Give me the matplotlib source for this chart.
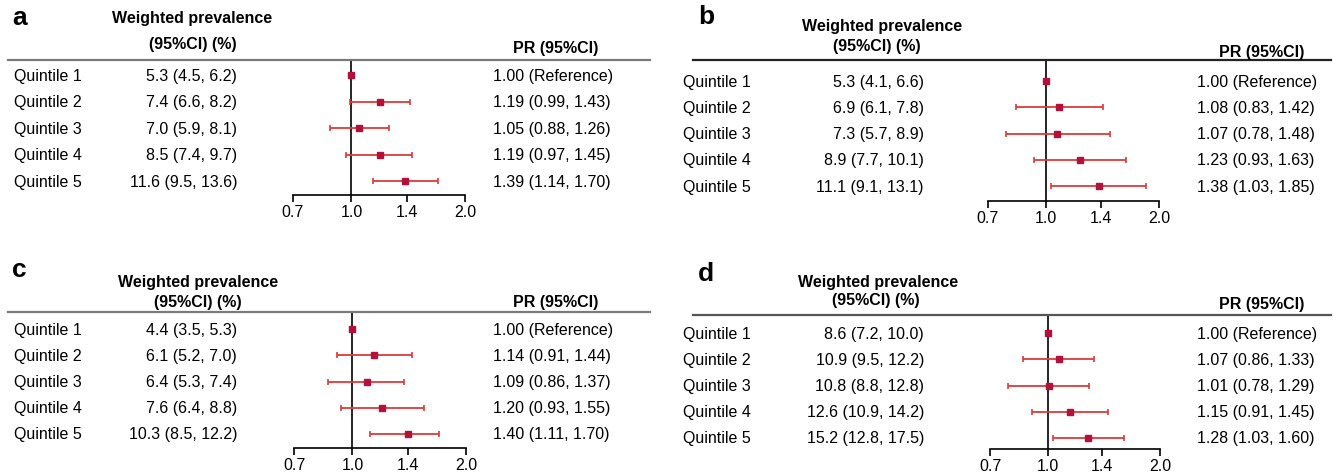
import numpy as np
import matplotlib
matplotlib.use('Agg')
import matplotlib.pyplot as plt
import matplotlib.transforms as mtransforms
from matplotlib.lines import Line2D
from matplotlib.ticker import FixedLocator, NullLocator

plt.rcParams['font.family'] = ['Liberation Sans', 'DejaVu Sans']

W, H = 1338, 477

row_labels = ['Quintile 1', 'Quintile 2', 'Quintile 3', 'Quintile 4', 'Quintile 5']
ticks      = [0.7, 1.0, 1.4, 2.0]

# weighted prevalence (%) and 95% CI
prev_a    = [5.3, 7.4, 7.0, 8.5, 11.6]
prev_lo_a = [4.5, 6.6, 5.9, 7.4, 9.5]
prev_hi_a = [6.2, 8.2, 8.1, 9.7, 13.6]
prev_b    = [5.3, 6.9, 7.3, 8.9, 11.1]
prev_lo_b = [4.1, 6.1, 5.7, 7.7, 9.1]
prev_hi_b = [6.6, 7.8, 8.9, 10.1, 13.1]
prev_c    = [4.4, 6.1, 6.4, 7.6, 10.3]
prev_lo_c = [3.5, 5.2, 5.3, 6.4, 8.5]
prev_hi_c = [5.3, 7.0, 7.4, 8.8, 12.2]
prev_d    = [8.6, 10.9, 10.8, 12.6, 15.2]
prev_lo_d = [7.2, 9.5, 8.8, 10.9, 12.8]
prev_hi_d = [10.0, 12.2, 12.8, 14.2, 17.5]

# prevalence ratio and 95% CI (quintile 1 = reference)
pr_a    = [1.00, 1.19, 1.05, 1.19, 1.39]
pr_lo_a = [1.00, 0.99, 0.88, 0.97, 1.14]
pr_hi_a = [1.00, 1.43, 1.26, 1.45, 1.70]
pr_b    = [1.00, 1.08, 1.07, 1.23, 1.38]
pr_lo_b = [1.00, 0.83, 0.78, 0.93, 1.03]
pr_hi_b = [1.00, 1.42, 1.48, 1.63, 1.85]
pr_c    = [1.00, 1.14, 1.09, 1.20, 1.40]
pr_lo_c = [1.00, 0.91, 0.86, 0.93, 1.11]
pr_hi_c = [1.00, 1.44, 1.37, 1.55, 1.70]
pr_d    = [1.00, 1.07, 1.01, 1.15, 1.28]
pr_lo_d = [1.00, 0.86, 0.78, 0.91, 1.03]
pr_hi_d = [1.00, 1.33, 1.29, 1.45, 1.60]

marker_color = '#b3103c'
ci_color     = '#dc3a3a'
fs           = 11.5

# panel layout in pixels (top-left origin)
panels = [
    dict(letter='a', prev=(prev_a, prev_lo_a, prev_hi_a), pr=(pr_a, pr_lo_a, pr_hi_a),
         x0=8, x1=650, letter_xy=(12, 18), wp_xy=(192, 19), ci_xy=(193, 44), pr_head_xy=(556, 48),
         quint_x=14, prev_x=237, pr_x=493, line_y=61, line_c='#7a7a7a',
         row0=76, row4=182, axis_y=196, ax07=293, ax20=465),
    dict(letter='b', prev=(prev_b, prev_lo_b, prev_hi_b), pr=(pr_b, pr_lo_b, pr_hi_b),
         x0=693, x1=1331, letter_xy=(698, 17), wp_xy=(882, 27), ci_xy=(877, 47), pr_head_xy=(1262, 52),
         quint_x=683, prev_x=924, pr_x=1197, line_y=61, line_c='#222222',
         row0=82, row4=187, axis_y=202, ax07=988, ax20=1159),
    dict(letter='c', prev=(prev_c, prev_lo_c, prev_hi_c), pr=(pr_c, pr_lo_c, pr_hi_c),
         x0=8, x1=650, letter_xy=(12, 270), wp_xy=(198, 283), ci_xy=(198, 302), pr_head_xy=(556, 303),
         quint_x=14, prev_x=237, pr_x=493, line_y=313, line_c='#7a7a7a',
         row0=330, row4=435, axis_y=449, ax07=294, ax20=466),
    dict(letter='d', prev=(prev_d, prev_lo_d, prev_hi_d), pr=(pr_d, pr_lo_d, pr_hi_d),
         x0=693, x1=1331, letter_xy=(698, 274), wp_xy=(878, 283), ci_xy=(876, 301), pr_head_xy=(1262, 305),
         quint_x=683, prev_x=924, pr_x=1197, line_y=316, line_c='#555555',
         row0=334, row4=439, axis_y=450, ax07=990, ax20=1160),
]

def fx(x):
    return x / W

def fy(y):
    return 1 - y / H

def draw_panel(fig, p):
    prev, prev_lo, prev_hi = p['prev']
    pr, pr_lo, pr_hi = p['pr']
    n = len(row_labels)
    spacing = (p['row4'] - p['row0']) / (n - 1)

    ax = fig.add_axes([fx(p['ax07']), fy(p['axis_y']),
                       (p['ax20'] - p['ax07']) / W, (p['axis_y'] - p['line_y']) / H])
    ax.set_xscale('log')
    ax.set_xlim(0.7, 2.0)
    ax.set_ylim((n - 1) + (p['axis_y'] - p['row4']) / spacing,
                (p['line_y'] - p['row0']) / spacing)
    ax.patch.set_alpha(0)
    for s in ['top', 'right', 'left']:
        ax.spines[s].set_visible(False)
    ax.spines['bottom'].set_linewidth(1.2)
    ax.spines['bottom'].set_bounds(0.7, 2.0)
    ax.xaxis.set_major_locator(FixedLocator(ticks))
    ax.xaxis.set_minor_locator(NullLocator())
    ax.set_xticklabels(['{:.1f}'.format(t) for t in ticks])
    ax.tick_params(axis='x', direction='out', length=5, width=1.2, pad=1.5, labelsize=fs, colors='black')
    ax.set_yticks([])

    ax.axvline(1.0, color='black', lw=1.2, zorder=1)

    y = np.arange(n)
    pr = np.array(pr)
    err = [pr - np.array(pr_lo), np.array(pr_hi) - pr]
    ax.errorbar(pr[1:], y[1:], xerr=[err[0][1:], err[1][1:]], fmt='none',
                ecolor=ci_color, elinewidth=1.3, capsize=2.5, capthick=1.2, zorder=2, clip_on=False)
    ax.plot(pr, y, 's', color=marker_color, markersize=5, zorder=3, clip_on=False)

    tr = mtransforms.blended_transform_factory(fig.transFigure, ax.transData)
    for i in range(n):
        ax.text(fx(p['quint_x']), i, row_labels[i], transform=tr, ha='left', va='center', fontsize=fs)
        ax.text(fx(p['prev_x']), i, '{:.1f} ({:.1f}, {:.1f})'.format(prev[i], prev_lo[i], prev_hi[i]),
                transform=tr, ha='right', va='center', fontsize=fs)
        if i == 0:
            s = '{:.2f} (Reference)'.format(pr[i])
        else:
            s = '{:.2f} ({:.2f}, {:.2f})'.format(pr[i], pr_lo[i], pr_hi[i])
        ax.text(fx(p['pr_x']), i, s, transform=tr, ha='left', va='center', fontsize=fs)

    lx, ly = p['letter_xy']
    fig.text(fx(lx), fy(ly), p['letter'], ha='left', va='center', fontsize=19, fontweight='bold')
    fig.text(fx(p['wp_xy'][0]), fy(p['wp_xy'][1]), 'Weighted prevalence',
             ha='center', va='center', fontsize=fs, fontweight='bold')
    fig.text(fx(p['ci_xy'][0]), fy(p['ci_xy'][1]), '(95%CI) (%)',
             ha='center', va='center', fontsize=fs, fontweight='bold')
    fig.text(fx(p['pr_head_xy'][0]), fy(p['pr_head_xy'][1]), 'PR (95%CI)',
             ha='center', va='center', fontsize=fs, fontweight='bold')
    fig.add_artist(Line2D([fx(p['x0']), fx(p['x1'])], [fy(p['line_y'])] * 2,
                          transform=fig.transFigure, color=p['line_c'], lw=1.6))

def main():
    fig = plt.figure(figsize=(W / 100, H / 100), dpi=100)
    fig.patch.set_facecolor('white')
    for p in panels:
        draw_panel(fig, p)
    fig.savefig('out.png', dpi=100, facecolor='white')

if __name__ == '__main__':
    main()
